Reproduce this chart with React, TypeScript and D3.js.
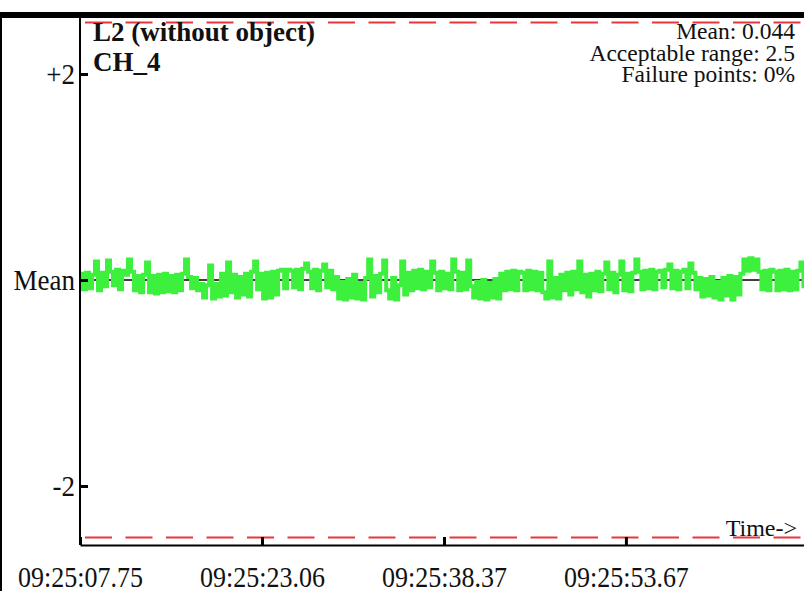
import { useEffect, useRef } from 'react';
import * as d3 from 'd3';

// signal deviation from the mean, one sample every sampleStep seconds
const seg1 = [0.06, -0.09, 0.07, -0.08, 0.05, 0.18, -0.1, 0.07, -0.06, 0.19, 0.08, -0.05, 0.1, -0.09, 0.09, 0.05, 0.2, 0.08, -0.1, 0.04, -0.12, 0.05, 0.17, -0.12, 0.04, -0.13, 0.05, -0.12, 0.06, -0.11, 0.04, -0.12, 0.05, -0.1, 0.06, 0.2, 0.03, -0.08, 0.02, -0.1, -0.04, -0.17, -0.05, 0.14, -0.18, -0.04, -0.16, 0.06, -0.15, 0.17, -0.12, 0.05, -0.17, 0.03, -0.14, 0.06, -0.16, 0.08, 0.18, -0.09, 0.06];
const seg2 = [-0.18, 0.07, -0.17, 0.08, -0.14, 0.09, 0.1, -0.08, 0.1, 0.09, -0.07, 0.1, -0.09, 0.11, 0.16, 0.08, -0.08, 0.1, -0.1, 0.09, 0.15, -0.07, 0.09, -0.09, 0.03, -0.18, -0.02, -0.19, 0.01, -0.17, 0.05, -0.18, -0.03, -0.19, 0.02, 0.2, -0.16, 0.04, -0.12, 0.06, 0.19, -0.1, -0.18, 0.02, -0.19, -0.05, 0.18, -0.14, 0.07, -0.1, 0.09, -0.08, 0.1, -0.09, 0.08, -0.07, 0.18, 0.07, -0.1, 0.08, -0.08];
const seg3 = [0.06, -0.09, 0.2, 0.08, -0.1, 0.07, -0.09, 0.19, -0.06, -0.17, -0.02, -0.18, 0.0, -0.19, -0.03, -0.17, 0.01, -0.18, 0.06, -0.1, 0.08, -0.09, 0.09, -0.1, 0.08, 0.07, -0.1, 0.09, -0.09, 0.08, -0.1, 0.07, -0.12, -0.18, 0.18, -0.17, 0.02, -0.18, 0.05, -0.1, 0.07, -0.14, 0.08, -0.09, 0.18, -0.12, 0.05, -0.16, 0.06, -0.1, 0.08, -0.11, 0.06, 0.17, -0.09, 0.07, -0.12, 0.05, 0.18, -0.1, 0.06];
const seg4 = [-0.11, 0.07, 0.2, 0.08, -0.09, 0.09, -0.08, 0.1, -0.09, 0.08, 0.09, -0.07, 0.1, 0.15, -0.08, 0.09, -0.09, 0.08, 0.1, -0.08, 0.16, 0.07, -0.09, 0.02, -0.16, 0.01, -0.15, 0.03, -0.17, -0.02, -0.19, 0.02, -0.15, 0.04, -0.19, 0.03, -0.14, 0.06, 0.2, 0.09, 0.21, 0.1, 0.2, 0.08, -0.09, 0.09, -0.1, 0.1, 0.08, -0.1, 0.09, -0.09, 0.1, -0.1, 0.08, -0.09, 0.09, 0.17, -0.08];
const signal = [...seg1, ...seg2, ...seg3, ...seg4];

// seconds after 09:25:00
const startTime = 7.75;
const endTime = 68.65;
const sampleStep = 0.2525;

const xTickTimes = [7.75, 23.06, 38.37, 53.67];
const xTickLabels = ['09:25:07.75', '09:25:23.06', '09:25:38.37', '09:25:53.67'];
const yTickValues = [2, 0, -2];
const yTickLabels = ['+2', 'Mean', '-2'];
const limitValues = [2.5, -2.5];
const titleLines = ['L2 (without object)', 'CH_4'];
const statsLines = ['Mean: 0.044', 'Acceptable range: 2.5', 'Failure points: 0%'];

const W = 804;
const H = 591;
const FONT = "'Liberation Serif', 'Times New Roman', serif";

export default function App() {
  const svgRef = useRef<SVGSVGElement>(null);

  useEffect(() => {
    if (!svgRef.current) return;
    const svg = d3.select(svgRef.current);
    svg.selectAll('*').remove();

    const plot = { left: 80, right: W, top: 18, bottom: 545 };

    const x = d3.scaleLinear().domain([startTime, endTime]).range([plot.left, plot.right]);
    const y = d3.scaleLinear().domain([-2.5, 2.5]).range([537.5, 22.5]);

    svg.append('rect').attr('width', W).attr('height', H).attr('fill', 'white');

    // top frame bar and left border
    svg.append('rect').attr('x', 0).attr('y', 12).attr('width', W).attr('height', 6).attr('fill', '#000');
    svg.append('rect').attr('x', 0).attr('y', 18).attr('width', 2).attr('height', H - 18).attr('fill', '#000');

    svg.append('defs').append('clipPath').attr('id', 'plotClip')
      .append('rect')
      .attr('x', plot.left).attr('y', plot.top)
      .attr('width', plot.right - plot.left).attr('height', plot.bottom - plot.top);

    // acceptable range limits
    svg.selectAll('.limit')
      .data(limitValues)
      .enter()
      .append('line')
      .attr('class', 'limit')
      .attr('x1', plot.left).attr('x2', plot.right)
      .attr('y1', d => y(d)).attr('y2', d => y(d))
      .attr('stroke', '#e8363c')
      .attr('stroke-width', 2)
      .attr('stroke-dasharray', '27,13.5')
      .attr('stroke-dashoffset', 35.5);

    // mean reference
    svg.append('line')
      .attr('x1', plot.left).attr('x2', plot.right)
      .attr('y1', y(0)).attr('y2', y(0))
      .attr('stroke', '#000')
      .attr('stroke-width', 1.5);

    const line = d3.line<number>()
      .x((_, i) => x(startTime + i * sampleStep))
      .y(d => y(d))
      .curve(d3.curveStepAfter);

    svg.append('path')
      .datum(signal)
      .attr('clip-path', 'url(#plotClip)')
      .attr('d', line)
      .attr('fill', 'none')
      .attr('stroke', '#3ef03e')
      .attr('stroke-width', 4);

    // x axis
    const xAxis = d3.axisBottom(x)
      .tickValues(xTickTimes)
      .tickFormat((_, i) => xTickLabels[i])
      .tickSizeInner(-8)
      .tickSizeOuter(0)
      .tickPadding(0);
    const gx = svg.append('g').attr('transform', `translate(0,${plot.bottom})`).call(xAxis);
    gx.select('.domain').attr('stroke', '#000').attr('stroke-width', 2);
    gx.selectAll('.tick line').attr('stroke', '#000').attr('stroke-width', 3);
    gx.selectAll('.tick text')
      .attr('y', 0)
      .attr('dy', 0)
      .attr('transform', 'translate(0,42) scale(1,1.12)')
      .attr('fill', '#111')
      .style('font-family', FONT)
      .style('font-size', '26px');

    // y axis
    const yAxis = d3.axisLeft(y)
      .tickValues(yTickValues)
      .tickFormat((_, i) => yTickLabels[i])
      .tickSizeInner(-8)
      .tickSizeOuter(0)
      .tickPadding(5);
    const gy = svg.append('g').attr('transform', `translate(${plot.left},0)`).call(yAxis);
    gy.select('.domain').remove();
    gy.selectAll('.tick line').attr('stroke', '#000').attr('stroke-width', 3);
    gy.selectAll('.tick text')
      .attr('dy', 0)
      .attr('transform', 'translate(0,9) scale(1,1.12)')
      .attr('fill', '#111')
      .style('font-family', FONT)
      .style('font-size', '27px');
    svg.append('line')
      .attr('x1', plot.left).attr('x2', plot.left)
      .attr('y1', plot.top).attr('y2', plot.bottom)
      .attr('stroke', '#000')
      .attr('stroke-width', 2);

    // title
    svg.selectAll('.title')
      .data(titleLines)
      .enter()
      .append('text')
      .attr('class', 'title')
      .attr('x', 93)
      .attr('y', (_, i) => 41 + i * 30)
      .attr('fill', '#111')
      .style('font-family', FONT)
      .style('font-weight', 'bold')
      .style('font-size', '27px')
      .text(d => d);

    // stats block
    svg.selectAll('.stats')
      .data(statsLines)
      .enter()
      .append('text')
      .attr('class', 'stats')
      .attr('x', 795)
      .attr('y', (_, i) => 39 + i * 21.5)
      .attr('text-anchor', 'end')
      .attr('fill', '#111')
      .style('font-family', FONT)
      .style('font-size', '23.5px')
      .text(d => d);

    svg.append('text')
      .attr('x', 797)
      .attr('y', 536)
      .attr('text-anchor', 'end')
      .attr('fill', '#111')
      .style('font-family', FONT)
      .style('font-size', '24px')
      .text('Time->');
  }, []);

  return (
    <svg
      ref={svgRef}
      width={W}
      height={H}
      style={{ position: 'absolute', left: 0, top: 0, display: 'block' }}
    />
  );
}
